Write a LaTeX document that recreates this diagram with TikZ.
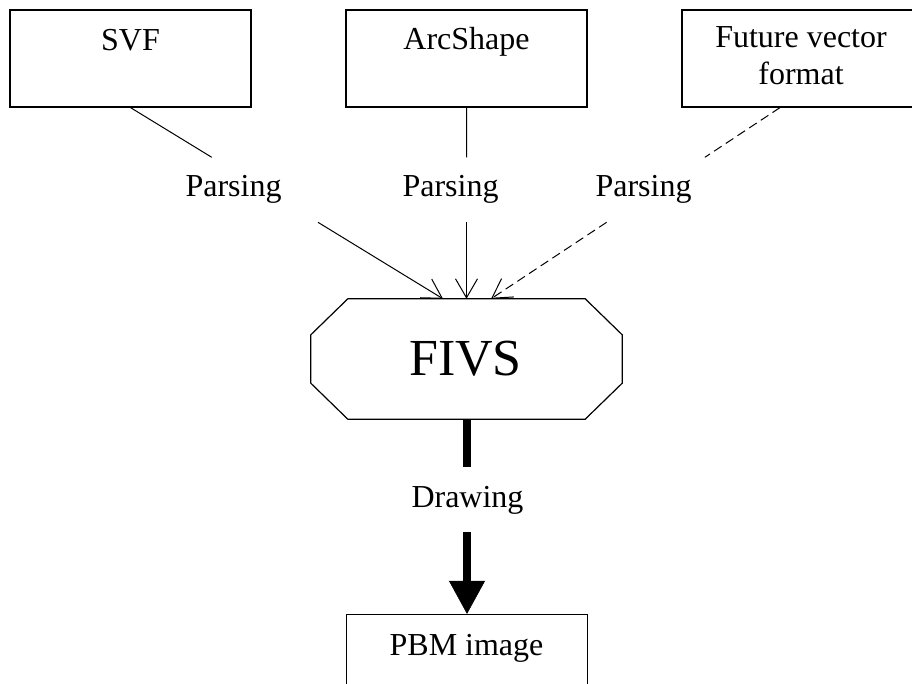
\documentclass[tikz,border=0pt]{standalone}
\usepackage{fontspec}
\setmainfont{Liberation Serif}
\usetikzlibrary{arrows.meta,calc}
\begin{document}
\begin{tikzpicture}[x=1pt,y=-1pt,
  box/.style={draw, line width=1.2pt, minimum width=241pt, minimum height=97pt, inner sep=0pt},
  txt/.style={anchor=base, inner sep=0pt, font=\fontsize{32}{37}\selectfont},
  flow/.style={line width=1pt},
  barb/.style={-{Straight Barb[length=19pt,width=22pt,line width=1pt]}},
  dashline/.style={dash pattern=on 9pt off 5pt},
  heavy/.style={line width=8pt}]
\useasboundingbox (0,0) rectangle (912,684);
\clip (0,0) rectangle (912,684);

% source formats
\node[box] (svf) at (130.5,58.5) {};
\node[txt] (svf-t) at (130.5,51) {SVF};
\node[box] (arc) at (466.5,58.5) {};
\node[txt] (arc-t) at (466.5,50) {ArcShape};
\node[box, minimum width=300pt] (fut) at (832,58.5) {};
\node[txt] (fut-t1) at (801,48) {Future vector};
\node[txt] (fut-t2) at (801,85) {format};

% central representation (octagon)
\node[minimum width=311pt, minimum height=120pt, inner sep=0pt] (fivs) at (466.5,359) {};
\draw[line width=1.2pt]
  ([xshift=37pt]fivs.north west) -- ([xshift=-37pt]fivs.north east)
  -- ([yshift=-36pt]fivs.north east) -- ([yshift=36pt]fivs.south east)
  -- ([xshift=-37pt]fivs.south east) -- ([xshift=37pt]fivs.south west)
  -- ([yshift=36pt]fivs.south west) -- ([yshift=-36pt]fivs.north west) -- cycle;
\node[txt, font=\fontsize{52}{60}\selectfont] (fivs-t) at (465.5,375) {FIVS};

% output
\node[box] (pbm) at (467,663) {};
\node[txt] (pbm-t) at (466.5,655) {PBM image};

% parsing connectors
\coordinate (s0) at (svf.south);
\coordinate (s9) at ([xshift=-23.5pt]fivs.north);
\coordinate (a0) at (arc.south);
\coordinate (a9) at (fivs.north);
\coordinate (f0) at ([xshift=-52pt]fut.south);
\coordinate (f9) at ([xshift=24.5pt]fivs.north);

\draw[flow] (s0) -- ($(s0)!0.26!(s9)$);
\draw[flow, barb] ($(s0)!0.6!(s9)$) -- (s9);
\node[txt] (p1) at (233.5,197) {Parsing};

\draw[flow] (a0) -- ($(a0)!0.26!(a9)$);
\draw[flow, barb] ($(a0)!0.6!(a9)$) -- (a9);
\node[txt] (p2) at (450.5,197) {Parsing};

\draw[flow, dashline] (f0) -- ($(f0)!0.26!(f9)$);
\draw[flow, dashline, barb] ($(f0)!0.6!(f9)$) -- (f9);
\node[txt] (p3) at (643.5,197) {Parsing};

% drawing connector
\coordinate (d1) at (467.5,467);
\coordinate (d2) at (467.5,532);
\draw[heavy] (fivs.south) -- (fivs.south |- d1);
\node[txt] (dr) at (467.5,507) {Drawing};
\draw[heavy, -{Triangle[length=33pt,width=36pt,line width=0.5pt]}] (pbm.north |- d2) -- (pbm.north);
\end{tikzpicture}
\end{document}
